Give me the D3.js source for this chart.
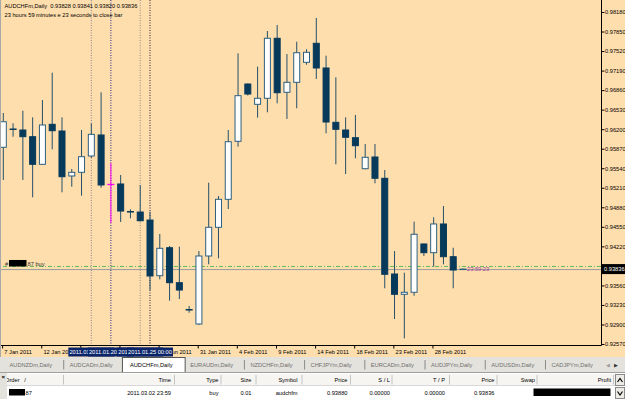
<!DOCTYPE html>
<html>
<head>
<meta charset="utf-8">
<script src="https://d3js.org/d3.v7.min.js"></script>
<style>
  html, body { margin: 0; padding: 0; overflow: hidden; background: #fff; }
  svg { display: block; font-family: "Liberation Sans", Arial, sans-serif; }
</style>
</head>
<body>
<script>
// daily bars, AUDCHFm (broker includes Sunday bars)
const dates = ["2011.01.07","2011.01.09","2011.01.10","2011.01.11","2011.01.12","2011.01.13","2011.01.14","2011.01.16",
  "2011.01.17","2011.01.18","2011.01.19","2011.01.20","2011.01.21","2011.01.23","2011.01.24","2011.01.25","2011.01.26",
  "2011.01.27","2011.01.28","2011.01.30","2011.01.31","2011.02.01","2011.02.02","2011.02.03","2011.02.04","2011.02.06",
  "2011.02.07","2011.02.08","2011.02.09","2011.02.10","2011.02.11","2011.02.13","2011.02.14","2011.02.15","2011.02.16",
  "2011.02.17","2011.02.18","2011.02.20","2011.02.21","2011.02.22","2011.02.23","2011.02.24","2011.02.25","2011.02.27",
  "2011.02.28","2011.03.01","2011.03.02","2011.03.03"];
const opens = [0.95894,0.96203,0.96186,0.96073,0.95606,0.96282,0.96169,0.95409,0.95471,0.95747,0.96102,0.95263,
  0.95274,0.94809,0.94800,0.94665,0.93724,0.94197,0.93606,0.93153,0.92908,0.94057,0.94542,0.95015,0.95995,0.96963,
  0.96620,0.96722,0.97736,0.96823,0.96992,0.97330,0.97651,0.97234,0.96316,0.96186,0.96056,0.95532,0.95730,0.95370,
  0.93753,0.93410,0.93444,0.94260,0.94113,0.94598,0.94045,0.93828];
const highs = [0.96473,0.96299,0.96512,0.96401,0.96693,0.97154,0.96401,0.95527,0.96186,0.96299,0.96823,0.95628,
  0.95426,0.94846,0.95257,0.94806,0.94429,0.94226,0.94214,0.93212,0.94141,0.95296,0.95071,0.96186,0.97482,0.96972,
  0.97256,0.97859,0.97960,0.97470,0.97678,0.97550,0.98079,0.97442,0.97077,0.96401,0.96440,0.95950,0.95950,0.95510,
  0.94141,0.93775,0.94637,0.94268,0.94711,0.94902,0.94197,0.93841];
const lows = [0.95341,0.96073,0.95341,0.95049,0.95595,0.95860,0.95133,0.95228,0.95076,0.95713,0.95211,0.94614,
  0.94631,0.94694,0.94640,0.93482,0.93663,0.93302,0.93330,0.93099,0.92891,0.93917,0.94018,0.94851,0.95904,0.96769,
  0.96394,0.96485,0.96637,0.96372,0.96553,0.97290,0.97048,0.96130,0.95606,0.95443,0.95708,0.95522,0.95285,0.93511,
  0.92992,0.92666,0.93386,0.94057,0.93876,0.93917,0.93511,0.93820];
const closes = [0.96326,0.96195,0.96073,0.95606,0.96271,0.96174,0.95397,0.95471,0.95735,0.96113,0.95257,0.95268,
  0.94817,0.94800,0.94653,0.93719,0.94187,0.93606,0.93482,0.93144,0.94057,0.94542,0.95015,0.95988,0.96766,0.96794,
  0.96722,0.97736,0.96816,0.96992,0.97492,0.97499,0.97234,0.96321,0.96198,0.96063,0.95921,0.95725,0.95370,0.93748,
  0.93410,0.93444,0.94424,0.94113,0.94598,0.94045,0.93820,0.93836];

const priceTicks = [0.98180,0.97850,0.97520,0.97190,0.96860,0.96530,0.96200,0.95870,0.95540,0.95210,
  0.94880,0.94550,0.94220,0.93890,0.93560,0.93230,0.92900,0.92570];
const axisDates = ["2011.01.07","2011.01.12","2011.01.17","2011.01.21","2011.01.26","2011.01.31",
  "2011.02.04","2011.02.09","2011.02.14","2011.02.18","2011.02.23","2011.02.28"];
const vLineDates = ["2011.01.18","2011.01.20","2011.01.24","2011.01.25"];
const markedBar = "2011.01.20";

const orderPrice = 0.93880;
const bidPrice = 0.93836;
const headerLine1 = "AUDCHFm,Daily  0.93828 0.93841 0.93820 0.93836";
const headerLine2 = "23 hours 59 minutes e 23 seconds to close bar";
const countdown = "23:59:23";

const tabs = ["AUDNZDm,Daily","AUDCADm,Daily","AUDCHFm,Daily","EURAUDm,Daily","NZDCHFm,Daily",
  "CHFJPYm,Daily","EURCADm,Daily","AUDJPYm,Daily","AUDUSDm,Daily","CADJPYm,Daily"];
const activeTab = "AUDCHFm,Daily";

const termHeaders = ["Time","Type","Size","Symbol","Price","S / L","T / P","Price","Swap","Profit"];
const termValues  = ["2011.03.02 23:59","buy","0.01","audchfm","0.93880","0.00000","0.00000","0.93836","",""];

// ---- layout
const W = 625, H = 399;
const fs = 5.7;
const plotRight = 601.5, plotBottom = 345.5;
const bull = "#ffffff", bear = "#06395a", edge = "#2d5f7e", wick = "#24506a";
const labelW = 46;

const svg = d3.select("body").append("svg").attr("width", W).attr("height", H);

svg.append("rect").attr("width", W).attr("height", H).attr("fill", "#ffffff");
svg.append("rect").attr("width", W).attr("height", 357).attr("fill", "#ffdead");

const x = d3.scalePoint().domain(dates).range([3.3, 463]);
const y = d3.scaleLinear().domain([0.92570, 0.98180]).range([344, 12]);

const defs = svg.append("defs");
defs.append("clipPath").attr("id", "plot")
  .append("rect").attr("x", 1).attr("y", 0).attr("width", plotRight - 1).attr("height", plotBottom);

const plot = svg.append("g").attr("clip-path", "url(#plot)");

// vertical marker lines
const vColors = ["#8a7f98", "#23238c", "#8c8c8c", "#1e1e3c"];
plot.selectAll(".vline").data(vLineDates).join("line")
  .attr("x1", d => x(d)).attr("x2", d => x(d))
  .attr("y1", 0).attr("y2", plotBottom)
  .attr("stroke", (d, i) => vColors[i]).attr("stroke-width", 1)
  .attr("stroke-dasharray", "1,1.5");

// order and bid lines
plot.append("line").attr("x1", 3).attr("x2", plotRight)
  .attr("y1", y(orderPrice)).attr("y2", y(orderPrice))
  .attr("stroke", "#5fbf5a").attr("stroke-dasharray", "4,2,1,2");
plot.append("line").attr("x1", 0).attr("x2", plotRight)
  .attr("y1", y(bidPrice) + 0.5).attr("y2", y(bidPrice) + 0.5)
  .attr("stroke", "#9c9c9c");

// candles
const bars = dates.map((d, i) => ({ date: d, o: opens[i], h: highs[i], l: lows[i], c: closes[i] }));
const g = plot.selectAll(".bar").data(bars).join("g");
g.append("line")
  .attr("x1", d => x(d.date)).attr("x2", d => x(d.date))
  .attr("y1", d => y(d.h)).attr("y2", d => y(d.l))
  .attr("stroke", d => d.date === markedBar ? "#ff00ff" : wick);
g.append("rect")
  .attr("x", d => x(d.date) - 3).attr("width", 6)
  .attr("y", d => y(Math.max(d.o, d.c)))
  .attr("height", d => Math.abs(y(d.o) - y(d.c)))
  .attr("fill", d => d.c >= d.o ? bull : bear)
  .attr("stroke", d => d.date === markedBar ? "#ff00ff" : (d.c >= d.o ? edge : bear));

// header text
svg.append("text").attr("x", 4.5).attr("y", 7.5).attr("font-size", fs).attr("fill", "#000")
  .attr("xml:space", "preserve").text(headerLine1);
svg.append("text").attr("x", 4.5).attr("y", 16.5).attr("font-size", fs).attr("fill", "#000").text(headerLine2);

// order label at left
svg.append("text").attr("x", 5).attr("y", y(orderPrice) - 0.8).attr("font-size", fs).attr("fill", "#333").text("#");
svg.append("rect").attr("x", 9).attr("y", y(orderPrice) - 6.5).attr("width", 17.5).attr("height", 6.5).attr("fill", "#000");
svg.append("text").attr("x", 27.5).attr("y", y(orderPrice) - 0.8).attr("font-size", fs).attr("fill", "#333").text("87 buy");

// countdown
svg.append("text").attr("x", 467).attr("y", y(bidPrice) + 2).attr("font-size", fs).attr("fill", "#a03ca0").text(countdown);

// price axis (the tick under the current price box is not labelled)
const yAxis = svg.append("g").attr("transform", `translate(${plotRight},0)`)
  .call(d3.axisRight(y).tickValues(priceTicks).tickSize(3).tickSizeOuter(0).tickPadding(0.5)
    .tickFormat(d => Math.abs(y(d) - y(bidPrice)) < 7 ? "" : d3.format(".5f")(d)));
yAxis.select(".domain").remove();
yAxis.selectAll("text").attr("font-size", fs).attr("fill", "#000").attr("font-family", null);
yAxis.selectAll("line").attr("stroke", "#000");

// time axis; labels that sit fully under a marker-line label are not shown
const parse = d3.timeParse("%Y.%m.%d");
const fmt = d3.timeFormat("%-d %b %Y");
const boxL = d3.min(vLineDates, d => x(d)) - labelW / 2;
const boxR = d3.max(vLineDates, d => x(d)) + labelW / 2;
const hidden = d => x(d) > boxL && x(d) + 30 < boxR;
const xAxis = svg.append("g").attr("transform", `translate(0,${plotBottom})`)
  .call(d3.axisBottom(x).tickValues(axisDates).tickSize(3).tickSizeOuter(0).tickPadding(1.5)
    .tickFormat(d => hidden(d) ? "" : fmt(parse(d))));
xAxis.select(".domain").remove();
xAxis.selectAll("text").attr("font-size", fs).attr("fill", "#000").attr("text-anchor", "start")
  .attr("x", 0.5).attr("font-family", null);
xAxis.selectAll(".tick line").attr("stroke", "#000").attr("transform", "translate(-1.2,0)");
// a label partly under the boxes shows only its right part (clip in the tick's own coordinates)
xAxis.selectAll(".tick").filter(d => !hidden(d) && x(d) > boxL && x(d) < boxR).each(function (d, i) {
  defs.append("clipPath").attr("id", "afterbox" + i)
    .append("rect").attr("x", boxR - x(d)).attr("y", -5).attr("width", 100).attr("height", 20);
  d3.select(this).select("text").attr("clip-path", `url(#afterbox${i})`);
});

// frame lines
svg.append("line").attr("x1", 0).attr("x2", plotRight).attr("y1", plotBottom).attr("y2", plotBottom).attr("stroke", "#000");
svg.append("line").attr("x1", plotRight).attr("x2", plotRight).attr("y1", 0).attr("y2", plotBottom).attr("stroke", "#000");
svg.append("line").attr("x1", 0.5).attr("x2", 0.5).attr("y1", 0).attr("y2", 357).attr("stroke", "#a8a8a8");

// vertical line date labels, each one shows only up to where the next one starts
const vl = svg.selectAll(".vlabel").data(vLineDates).join("g");
vl.append("rect").attr("x", d => x(d) - labelW / 2).attr("y", 347.5).attr("width", labelW).attr("height", 9).attr("fill", "#0a246a");
vLineDates.forEach((d, i) => {
  const left = x(d) - labelW / 2;
  const right = i < vLineDates.length - 1 ? x(vLineDates[i + 1]) - labelW / 2 : left + labelW;
  defs.append("clipPath").attr("id", "vlc" + i)
    .append("rect").attr("x", left).attr("y", 346).attr("width", right - left).attr("height", 12);
});
vl.append("text").attr("x", d => x(d)).attr("y", 354.3).attr("text-anchor", "middle")
  .attr("clip-path", (d, i) => `url(#vlc${i})`)
  .attr("font-size", fs).attr("fill", "#fff").text(d => d + " 00:00");

// current price label
svg.append("rect").attr("x", 602).attr("y", y(bidPrice) - 5).attr("width", 23).attr("height", 10).attr("fill", "#000");
svg.append("text").attr("x", 604).attr("y", y(bidPrice) + 2).attr("font-size", fs).attr("fill", "#fff")
  .text(d3.format(".5f")(bidPrice));

// tab bar
svg.append("rect").attr("x", 0).attr("y", 357).attr("width", W).attr("height", 15.5).attr("fill", "#e4e2dc");
const tx = d3.scaleBand().domain(tabs).range([3.5, 3.5 + tabs.length * 60.22]);
const ai = tabs.indexOf(activeTab);
svg.append("rect").attr("x", tx(activeTab) - 1.5).attr("y", 357.5).attr("width", tx.bandwidth() + 2.5).attr("height", 15)
  .attr("fill", "#fff").attr("stroke", "#555");
svg.selectAll(".tabsep").data(tabs.filter((t, i) => i > 0 && i !== ai && i !== ai + 1)).join("line")
  .attr("x1", d => tx(d)).attr("x2", d => tx(d)).attr("y1", 360).attr("y2", 369.5).attr("stroke", "#8a8a8a");
svg.selectAll(".tab").data(tabs).join("text")
  .attr("x", d => tx(d) + 6).attr("y", 366.5).attr("font-size", fs)
  .attr("fill", d => d === activeTab ? "#000" : "#6e6e6e").text(d => d);
svg.append("text").attr("x", 606).attr("y", 366.5).attr("font-size", 5).attr("fill", "#999").text("◀");
svg.append("text").attr("x", 614).attr("y", 366.5).attr("font-size", 5).attr("fill", "#333").text("▶");

// terminal panel
svg.append("line").attr("x1", 0).attr("x2", W).attr("y1", 372.5).attr("y2", 372.5).attr("stroke", "#a0a0a0");
svg.append("rect").attr("x", 7).attr("y", 374).attr("width", 608).attr("height", 11).attr("fill", "#f6f5f1");
svg.append("line").attr("x1", 7).attr("x2", 615).attr("y1", 385.5).attr("y2", 385.5).attr("stroke", "#d8d8d8");
const colRight = [171, 218.5, 251.5, 297.5, 347.5, 390, 445, 494.5, 535, 611];
const colSep = [63.5, 174.5, 221, 256, 302, 350.5, 392, 449.5, 497, 537, 613.5];
svg.selectAll(".csep").data(colSep).join("line")
  .attr("x1", d => d).attr("x2", d => d).attr("y1", 375).attr("y2", 384.5).attr("stroke", "#c4c4c4");
svg.append("text").attr("x", 5).attr("y", 382).attr("font-size", fs).attr("fill", "#000")
  .attr("xml:space", "preserve").text("Order   /");
svg.selectAll(".th").data(termHeaders).join("text")
  .attr("x", (d, i) => colRight[i]).attr("y", 382).attr("text-anchor", "end")
  .attr("font-size", fs).attr("fill", "#000").text(d => d);
svg.append("rect").attr("x", 9).attr("y", 389).attr("width", 16).attr("height", 6.5).attr("fill", "#000");
svg.append("text").attr("x", 25.5).attr("y", 395).attr("font-size", fs).attr("fill", "#000").text("87");
svg.selectAll(".tv").data(termValues).join("text")
  .attr("x", (d, i) => colRight[i]).attr("y", 395).attr("text-anchor", "end")
  .attr("font-size", fs).attr("fill", "#000").text(d => d);
svg.append("rect").attr("x", 533.5).attr("y", 388.5).attr("width", 77).attr("height", 7.5).attr("fill", "#000");

// left strip and scroll buttons
svg.append("rect").attr("x", 0).attr("y", 373).attr("width", 7).attr("height", 26).attr("fill", "#e4e2dc");
svg.append("text").attr("x", 1.5).attr("y", 379).attr("font-size", 6).attr("font-weight", "bold").attr("fill", "#000").text("×");
svg.append("rect").attr("x", 615.5).attr("y", 374.5).attr("width", 9).attr("height", 11).attr("fill", "#ecebe6").attr("stroke", "#8a8a8a");
svg.append("rect").attr("x", 615.5).attr("y", 387.5).attr("width", 9).attr("height", 11).attr("fill", "#ecebe6").attr("stroke", "#8a8a8a");
svg.append("path").attr("d", "M617.5,382 L620,378.5 L622.5,382").attr("fill", "none").attr("stroke", "#000").attr("stroke-width", 1.2);
svg.append("path").attr("d", "M617.5,391.5 L620,395 L622.5,391.5").attr("fill", "none").attr("stroke", "#000").attr("stroke-width", 1.2);
</script>
</body>
</html>
